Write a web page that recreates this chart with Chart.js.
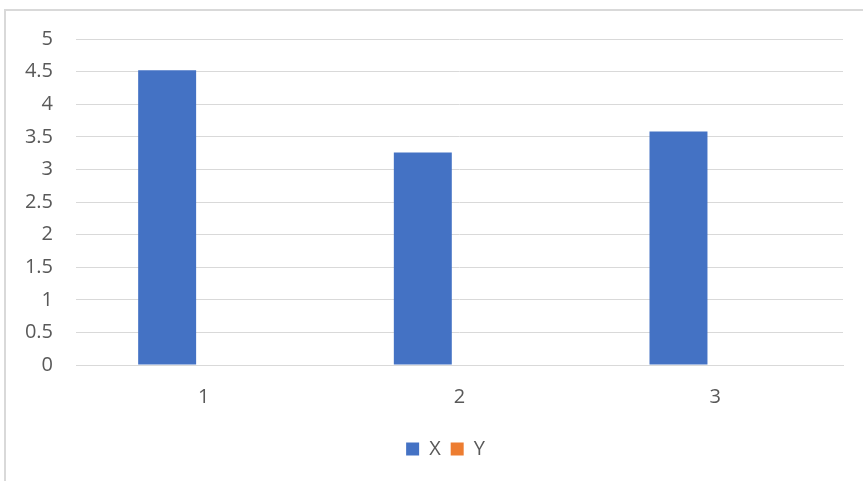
<!DOCTYPE html>
<html>
<head>
<meta charset="utf-8">
<script src="https://cdn.jsdelivr.net/npm/chart.js@4"></script>
<style>
  html, body { margin: 0; padding: 0; background: #fff; overflow: hidden; }
  #wrap { position: relative; width: 863px; height: 481px; }
  #frame { position: absolute; left: 4px; top: 9px; width: 880px; height: 490px; border: 2px solid #d9d9d9; box-sizing: border-box; }
  canvas { position: absolute; left: 0; top: 0; }
</style>
</head>
<body>
<div id="wrap">
  <div id="frame"></div>
  <canvas id="c" width="863" height="481"></canvas>
</div>
<script>
const categories = ['1', '2', '3'];
const seriesX = [4.52, 3.26, 3.58];
const seriesY = [0, 0, 0];
const seriesNames = ['X', 'Y'];
const yTicks = [0, 0.5, 1, 1.5, 2, 2.5, 3, 3.5, 4, 4.5, 5];

const FONT = { family: "'Open Sans', 'Liberation Sans', sans-serif", size: 20 };
const TEXT = '#595959';
const GRID = '#d9d9d9';

const shiftLegend = {
  id: 'shiftLegend',
  afterLayout(chart) {
    const lg = chart.legend;
    if (lg) { lg.left += 24; lg.right += 24; }
  }
};

new Chart(document.getElementById('c'), {
  type: 'bar',
  data: {
    labels: categories,
    datasets: [
      { label: seriesNames[0], data: seriesX, backgroundColor: '#4472C4', borderWidth: 0 },
      { label: seriesNames[1], data: seriesY, backgroundColor: '#ED7D31', borderWidth: 0 }
    ]
  },
  plugins: [shiftLegend],
  options: {
    responsive: false,
    animation: false,
    devicePixelRatio: 1,
    layout: { padding: { left: 0, top: 39, right: 20, bottom: 12 } },
    datasets: { bar: { categoryPercentage: 0.574, barPercentage: 0.79 } },
    plugins: {
      tooltip: { enabled: false },
      legend: {
        position: 'bottom',
        labels: {
          color: TEXT,
          font: FONT,
          boxWidth: 13,
          boxHeight: 13,
          padding: 10
        }
      }
    },
    scales: {
      x: {
        grid: { display: false, drawTicks: false },
        border: { display: true, color: GRID, width: 1 },
        ticks: { color: TEXT, font: FONT, padding: 20 },
        afterFit: (s) => { s.height = 64; }
      },
      y: {
        min: 0,
        max: 5,
        afterBuildTicks: (s) => { s.ticks = yTicks.map(v => ({ value: v })); },
        grid: { color: GRID, lineWidth: 1, drawTicks: false },
        border: { display: false },
        ticks: { color: TEXT, font: FONT, padding: 23, callback: (v) => String(v) },
        afterFit: (s) => { s.width = 76; }
      }
    }
  }
});
</script>
</body>
</html>
